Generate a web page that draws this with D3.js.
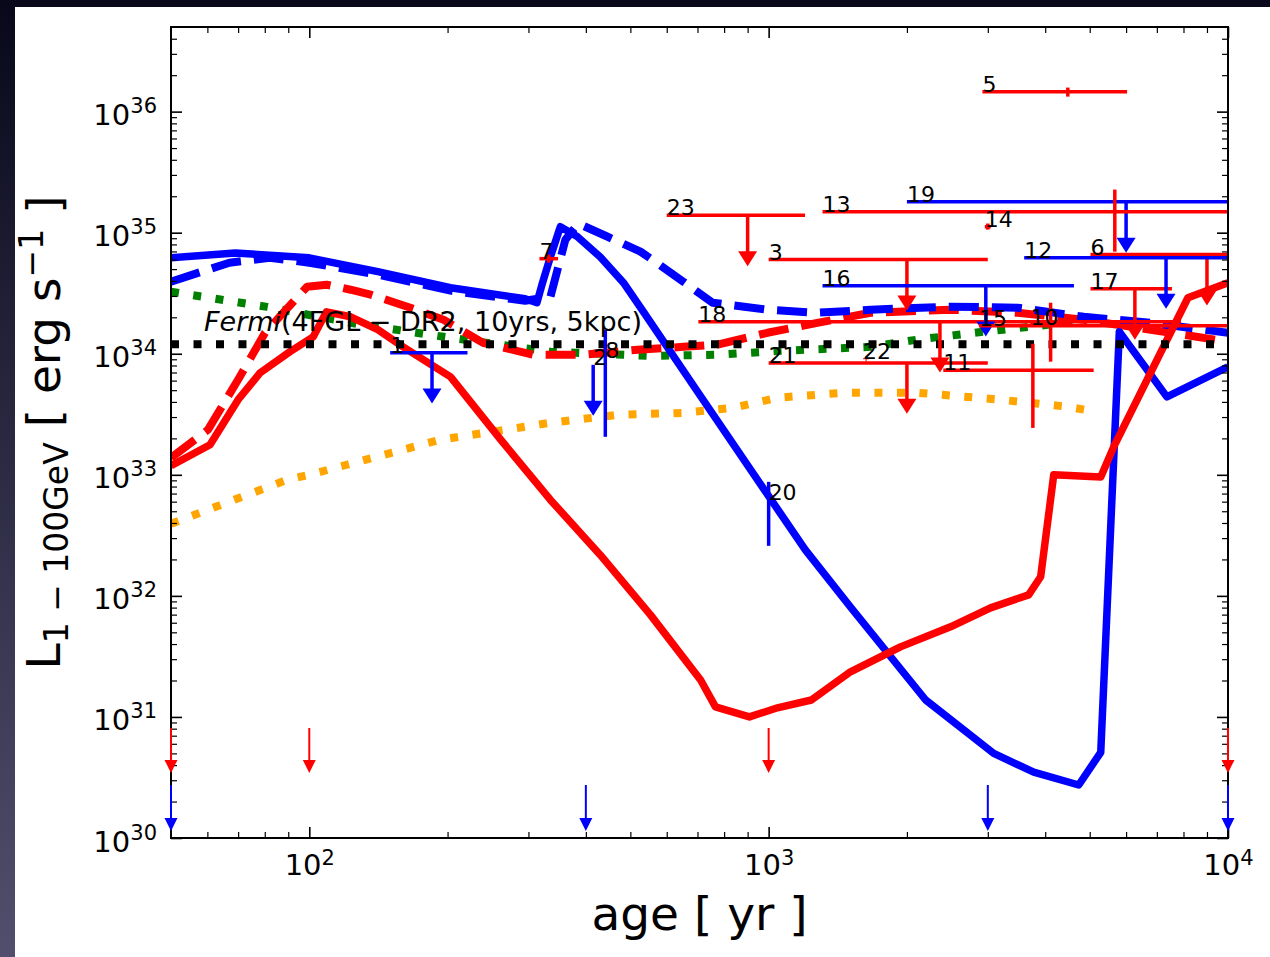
<!DOCTYPE html>
<html lang="en">
<head>
<meta charset="UTF-8">
<title>L vs age</title>
<script src="https://d3js.org/d3.v7.min.js"></script>
<style>
    body { margin: 0; }
    svg text { font-family: "DejaVu Sans", sans-serif; white-space: pre; }
</style>
</head>
<body>
<div class="canvas"></div>
<script>
// ---- model curves (age in yr, L in erg/s) ----
let blueSolidAge = [50, 69, 100, 141, 203, 295, 313, 321, 335, 352, 383, 430, 483, 534, 710, 1013, 1202, 1507, 2197, 3090, 3776, 4732, 5284, 5800, 7362, 10000];
let blueSolidL   = [6.2e34, 6.8e34, 6.2e34, 4.77e34, 3.51e34, 2.85e34, 2.64e34, 3.72e34, 6.34e34, 1.12e35, 9.3e34, 6.3e34, 3.86e34, 2.22e34, 4.5e33, 6.2e32, 2.4e32, 8.1e31, 1.38e31, 5.0e30, 3.5e30, 2.74e30, 5.1e30, 1.52e34, 4.4e33, 7.8e33];

let blueDashAge = [50, 67, 82, 100, 141, 203, 295, 335, 347, 361, 385, 445, 526, 566, 652, 755, 994, 1276, 1667, 2489, 3484, 4852, 6790, 10000];
let blueDashL   = [3.94e34, 5.65e34, 6.2e34, 5.65e34, 4.5e34, 3.32e34, 2.74e34, 2.96e34, 4.94e34, 8.75e34, 1.19e35, 9.3e34, 6.97e34, 5.76e34, 3.94e34, 2.64e34, 2.31e34, 2.18e34, 2.31e34, 2.45e34, 2.40e34, 2.02e34, 1.80e34, 1.49e34];

let redSolidAge = [50, 60.8, 70, 78.2, 90.8, 102, 109, 123, 141, 160, 203, 261, 335, 430, 553, 711, 766, 908, 1045, 1239, 1507, 1936, 2489, 3041, 3681, 3910, 4175, 5284, 5638, 8180, 10000];
let redSolidL   = [1.19e33, 1.77e33, 4.17e33, 6.97e33, 1.04e34, 1.38e34, 2.22e34, 2.02e34, 1.58e34, 1.14e34, 6.45e33, 1.95e33, 6.2e32, 2.18e32, 6.97e31, 2.02e31, 1.21e31, 1.0e31, 1.19e31, 1.38e31, 2.36e31, 3.79e31, 5.55e31, 7.96e31, 1.02e32, 1.44e32, 1.0e33, 9.6e32, 1.7e33, 2.9e34, 3.86e34];

let redDashAge = [50, 60.2, 70.6, 80.1, 93.1, 98.9, 109, 123, 136, 166, 196, 239, 308, 395, 518, 652, 774, 994, 1276, 1667, 2489, 3484, 4852, 6790, 10000];
let redDashL   = [1.38e33, 2.36e33, 6.45e33, 1.49e34, 2.79e34, 3.58e34, 3.72e34, 3.38e34, 3.08e34, 2.40e34, 1.91e34, 1.23e34, 9.8e33, 9.8e33, 1.08e34, 1.14e34, 1.19e34, 1.49e34, 1.80e34, 2.18e34, 2.31e34, 2.18e34, 1.91e34, 1.58e34, 1.26e34];

let greenAge = [50, 80.9, 123, 196, 335, 553, 774, 1077, 1667, 2111, 2936, 4710];
let greenL   = [3.25e34, 2.44e34, 1.80e34, 1.38e34, 1.04e34, 9.6e33, 9.8e33, 1.06e34, 1.14e34, 1.31e34, 1.52e34, 1.84e34];

let orangeAge = [50, 89.5, 100, 193, 335, 469, 652, 838, 1045, 1455, 2111, 3199, 4481, 5024];
let orangeL   = [3.94e32, 9.1e32, 1.0e33, 1.95e33, 2.69e33, 3.13e33, 3.25e33, 3.58e33, 4.33e33, 4.76e33, 4.76e33, 4.17e33, 3.65e33, 3.38e33];

// Fermi sensitivity
let fermiAge = [50, 10000];
let fermiL = 1.2e34;

// ---- observed objects ----
// upper limits
let redUlLabel = ["3", "6", "17", "18", "21", "23"];
let redUlAge   = [2000, 9000, 6270, 2360, 2000, 900];
let redUlAgeLo = [1000, 5020, 5020, 703, 1000, 600];
let redUlAgeHi = [3000, 16000, 7550, 7900, 3000, 1200];
let redUlL     = [6.0e34, 6.6e34, 3.44e34, 1.84e34, 8.4e33, 1.39e35];

let blueUlLabel = ["1", "2", "12", "16", "19"];
let blueUlAge   = [185, 415, 7330, 2970, 6000];
let blueUlAgeLo = [150, 415, 3600, 1310, 2000];
let blueUlAgeHi = [221, 415, 15000, 4620, 18000];
let blueUlL     = [1.02e34, 8.1e33, 6.2e34, 3.65e34, 1.80e35];

// detections
let redDetLabel = ["5", "7", "10", "11", "13", "14", "15", "22"];
let redDetAge   = [4480, 332, 4110, 3760, 5670, 3000, 2870, 1630];
let redDetAgeLo = [2920, 317, 3715, 2400, 1310, 2955, 2870, 1605];
let redDetAgeHi = [6030, 348, 4550, 5100, 24500, 3045, 15000, 1655];
let redDetL     = [1.46e36, 6.1e34, 1.74e34, 7.3e33, 1.49e35, 1.12e35, 1.70e34, 9.1e33];
let redDetLLo   = [1.33e36, 5.65e34, 8.6e33, 2.44e33, 6.97e34, 1.06e35, 1.70e34, 8.6e33];
let redDetLHi   = [1.58e36, 6.6e34, 2.64e34, 1.21e34, 2.27e35, 1.19e35, 1.70e34, 9.6e33];

let blueDetLabel = ["8", "20"];
let blueDetAge   = [441, 1000];
let blueDetL     = [9.3e33, 6.2e32];
let blueDetLLo   = [2.06e33, 2.59e32];
let blueDetLHi   = [1.58e34, 8.75e32];

// arrows at the bottom
let redBottomAge  = [50, 100, 1000, 10000];
let redBottomL    = [8.1e30, 3.45e30];
let blueBottomAge = [50, 400, 3000, 10000];
let blueBottomL   = [2.74e30, 1.14e30];

// ticks
let xMajor = [100, 1000, 10000];
let xMinor = [60, 70, 80, 90, 200, 300, 400, 500, 600, 700, 800, 900, 2000, 3000, 4000, 5000, 6000, 7000, 8000, 9000];
let yMajor = [1e30, 1e31, 1e32, 1e33, 1e34, 1e35, 1e36];
let yMinor = [];
for (let e = 30; e <= 36; e++) for (let m = 2; m <= 9; m++) if (m * Math.pow(10, e) <= 5e36) yMinor.push(m * Math.pow(10, e));

// ---- canvas ----
let margin = { top: 27, left: 171 };
let width = 1057, height = 811;

let svg = d3.select(".canvas").append("svg")
    .attr("width", 1270).attr("height", 957);
let defs = svg.append("defs");
let grad = defs.append("linearGradient").attr("id", "bg")
    .attr("x1", 0).attr("y1", 0).attr("x2", 0).attr("y2", 1);
grad.append("stop").attr("offset", "0%").attr("stop-color", "#08081a");
grad.append("stop").attr("offset", "100%").attr("stop-color", "#524f6e");
svg.append("rect").attr("width", 1270).attr("height", 957).attr("fill", "url(#bg)");
svg.append("rect").attr("x", 15).attr("y", 7).attr("width", 1255).attr("height", 950).attr("fill", "#fff");
defs.append("clipPath").attr("id", "plotclip")
    .append("rect").attr("width", width).attr("height", height);

let canvas = svg.append("g").attr("transform", "translate(" + margin.left + "," + margin.top + ")");

let x = d3.scaleLog().domain([50, 1e4]).range([0, width]);
let y = d3.scaleLog().domain([1e30, 5e36]).range([height, 0]);

let line = d3.line().x(d => x(d[0])).y(d => y(d[1]));
let pairs = (a, l) => a.map((v, i) => [v, l[i]]);

// labels at (lower age, L) - drawn under the curves like the original
let labs = canvas.append("g").attr("font-size", "22px").attr("fill", "#000");
function labels(names, ages, lum) {
    names.forEach((n, i) => {
        labs.append("text").attr("x", x(ages[i])).attr("y", y(lum[i])).text(n);
    });
}

// ---- curves ----
let plot = canvas.append("g").attr("clip-path", "url(#plotclip)");
function curve(data, color, w, dash) {
    plot.append("path").datum(data)
        .attr("fill", "none").attr("stroke", color).attr("stroke-width", w)
        .attr("stroke-linejoin", "round")
        .attr("stroke-dasharray", dash)
        .attr("d", line);
}
curve(pairs(orangeAge, orangeL), "#ffa500", 8, "8,14.5");
curve(pairs(greenAge, greenL), "#008000", 8, "8,14.5");
curve(pairs(redDashAge, redDashL), "#ff0000", 8, "30,13");
curve(pairs(blueDashAge, blueDashL), "#0000ff", 8, "30,13");
curve(pairs(blueSolidAge, blueSolidL), "#0000ff", 7.5, null);
curve(pairs(redSolidAge, redSolidL), "#ff0000", 7.5, null);
curve(fermiAge.map(a => [a, fermiL]), "#000", 8, "8,14.5");

// ---- error bars / upper limits ----
let pts = canvas.append("g").attr("clip-path", "url(#plotclip)");
function arrowHead(g, px, tipY, w, h, color) {
    g.append("path")
        .attr("d", "M" + (px - w / 2) + "," + (tipY - h) + "L" + (px + w / 2) + "," + (tipY - h) + "L" + px + "," + tipY + "Z")
        .attr("fill", color);
}
function upperLimits(labelsArr, age, lo, hi, lum, color) {
    labelsArr.forEach((lab, i) => {
        let g = pts.append("g");
        g.append("line").attr("x1", x(lo[i])).attr("x2", x(hi[i]))
            .attr("y1", y(lum[i])).attr("y2", y(lum[i]))
            .attr("stroke", color).attr("stroke-width", 3.5);
        let tip = y(lum[i] * 0.38);
        g.append("line").attr("x1", x(age[i])).attr("x2", x(age[i]))
            .attr("y1", y(lum[i])).attr("y2", tip - 8)
            .attr("stroke", color).attr("stroke-width", 3.5);
        arrowHead(g, x(age[i]), tip, 19, 15, color);
    });
}
function detections(labelsArr, age, lo, hi, lum, lLo, lHi, color) {
    labelsArr.forEach((lab, i) => {
        let w = lab === "22" ? 1 : 3.5;
        pts.append("line").attr("x1", x(lo[i])).attr("x2", x(hi[i]))
            .attr("y1", y(lum[i])).attr("y2", y(lum[i]))
            .attr("stroke", color).attr("stroke-width", w);
        pts.append("line").attr("x1", x(age[i])).attr("x2", x(age[i]))
            .attr("y1", y(lHi[i])).attr("y2", y(lLo[i]))
            .attr("stroke", color).attr("stroke-width", w);
    });
}
upperLimits(redUlLabel, redUlAge, redUlAgeLo, redUlAgeHi, redUlL, "#ff0000");
upperLimits(blueUlLabel, blueUlAge, blueUlAgeLo, blueUlAgeHi, blueUlL, "#0000ff");
detections(redDetLabel, redDetAge, redDetAgeLo, redDetAgeHi, redDetL, redDetLLo, redDetLHi, "#ff0000");
detections(blueDetLabel, blueDetAge, blueDetAge, blueDetAge, blueDetL, blueDetLLo, blueDetLHi, "#0000ff");

labs.raise();
labels(redUlLabel, redUlAgeLo, redUlL);
labels(blueUlLabel, blueUlAgeLo, blueUlL);
labels(redDetLabel, redDetAgeLo, redDetL);
labels(blueDetLabel, blueDetAge, blueDetL);

// Fermi label
let ft = canvas.append("text").attr("x", x(59)).attr("y", y(1.55e34)).attr("font-size", "27px");
ft.append("tspan").attr("font-style", "italic").text("Fermi");
ft.append("tspan").text("(4FGL \u2212 DR2, 10yrs, 5kpc)");

// ---- axes ----
canvas.append("rect").attr("width", width).attr("height", height)
    .attr("fill", "none").attr("stroke", "#000").attr("stroke-width", 2);

function ticks(axis, tr, vals, size) {
    let g = canvas.append("g").attr("transform", tr)
        .call(axis.tickValues(vals).tickSizeInner(-size).tickSizeOuter(0).tickFormat(""));
    g.select(".domain").remove();
    g.selectAll(".tick line").attr("stroke-width", size > 8 ? 1.6 : 1.2);
    return g;
}
let xb = ticks(d3.axisBottom(x), "translate(0," + height + ")", xMajor, 11);
ticks(d3.axisBottom(x), "translate(0," + height + ")", xMinor, 6);
ticks(d3.axisTop(x), "translate(0,0)", xMajor, 11);
ticks(d3.axisTop(x), "translate(0,0)", xMinor, 6);
let yl = ticks(d3.axisLeft(y), "translate(0,0)", yMajor, 11);
ticks(d3.axisLeft(y), "translate(0,0)", yMinor, 6);
ticks(d3.axisRight(y), "translate(" + width + ",0)", yMajor, 11);
ticks(d3.axisRight(y), "translate(" + width + ",0)", yMinor, 6);

xb.selectAll(".tick text").attr("font-size", "29px").attr("fill", "#000")
    .attr("y", 37).attr("dy", 0)
    .each(function (d) {
        let t = d3.select(this);
        t.append("tspan").text("10");
        t.append("tspan").attr("font-size", "21px").attr("dy", -10).text(Math.round(Math.log10(d)));
    });
yl.selectAll(".tick text").attr("font-size", "29px").attr("fill", "#000")
    .attr("x", -14).attr("dy", 13)
    .each(function (d) {
        let t = d3.select(this);
        t.append("tspan").text("10");
        t.append("tspan").attr("font-size", "21px").attr("dy", -12).text(Math.round(Math.log10(d)));
    });

// axis titles
canvas.append("text").attr("x", width / 2).attr("y", 903).attr("text-anchor", "middle")
    .attr("font-size", "47px").text("age [ yr ]");
let yt = canvas.append("text").attr("transform", "translate(" + (60 - margin.left) + "," + (height / 2) + ") rotate(-90)")
    .attr("text-anchor", "middle").attr("font-size", "47px");
yt.append("tspan").text("L");
yt.append("tspan").attr("font-size", "33px").attr("dy", 8).text("1 \u2212 100GeV");
yt.append("tspan").attr("dy", -8).text(" [ erg s");
yt.append("tspan").attr("font-size", "33px").attr("dy", -17).text("\u22121");
yt.append("tspan").attr("dy", 17).text(" ]");

// ---- arrows at bottom (drawn over the frame) ----
let bottom = canvas.append("g");
function bottomArrows(ages, lum, color) {
    ages.forEach(a => {
        let tip = y(lum[1]);
        bottom.append("line").attr("x1", x(a)).attr("x2", x(a))
            .attr("y1", y(lum[0])).attr("y2", tip - 6)
            .attr("stroke", color).attr("stroke-width", 2);
        arrowHead(bottom, x(a), tip, 13, 13, color);
    });
}
bottomArrows(redBottomAge, redBottomL, "#ff0000");
bottomArrows(blueBottomAge, blueBottomL, "#0000ff");
</script>
</body>
</html>
